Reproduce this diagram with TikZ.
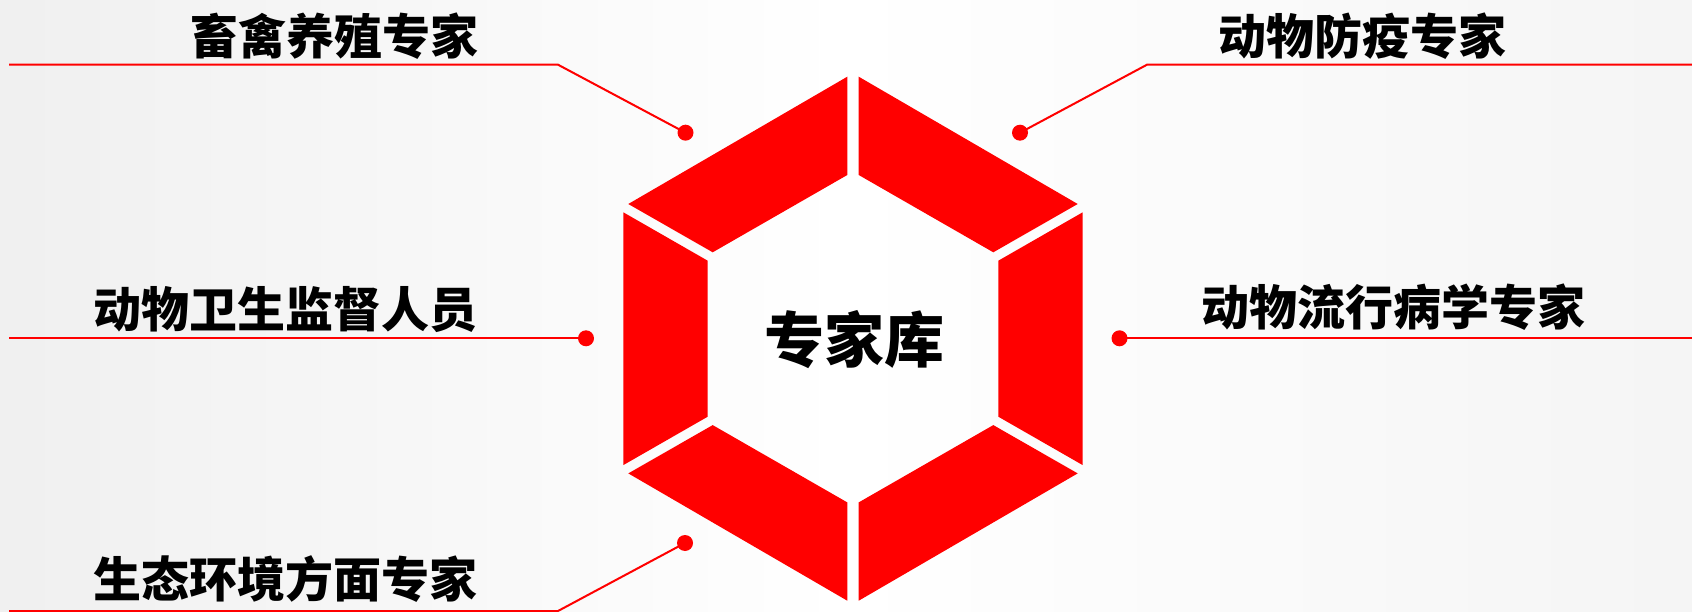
\documentclass[tikz,border=0pt]{standalone}
\usepackage{fontspec}
\newfontfamily\cjk{Noto Sans CJK SC}
\definecolor{hexred}{RGB}{255,0,0}
\begin{document}
\begin{tikzpicture}[x=1pt,y=-1pt,
  seg/.style={fill=hexred,draw=none},
  conn/.style={draw=hexred,line width=2pt},
  dot/.style={circle,fill=hexred,inner sep=0pt,minimum size=16pt},
  lbl/.style={font=\cjk\bfseries\fontsize{48}{48}\selectfont,text=black,inner sep=0pt},
  ctr/.style={font=\cjk\bfseries\fontsize{60}{60}\selectfont,text=black,inner sep=0pt}]
\useasboundingbox (0,0) rectangle (1692,612);
\shade[left color=black!6,right color=black!4,middle color=white] (0,0) rectangle (1692,612);
% hexagon segments
\begin{scope}[shift={(853,338.7)}]
  \foreach \sx/\sy in {1/1,-1/1,1/-1,-1/-1}{
    \begin{scope}[xscale=\sx,yscale=\sy]
      \fill[seg] (-224.7,-134.7) -- (-5.7,-262) -- (-5.7,-163.7) -- (-140.3,-86.4) -- cycle;
    \end{scope}
  }
  \foreach \sx in {1,-1}{
    \begin{scope}[xscale=\sx]
      \fill[seg] (-229.7,-126.4) -- (-145.3,-78) -- (-145.3,78) -- (-229.7,126.4) -- cycle;
    \end{scope}
  }
\end{scope}
\node[ctr] (center) at (854.5,340) {专家库};
% dots
\node[dot] (d1) at (685.5,132.7) {};
\node[dot] (d2) at (1020,132.7) {};
\node[dot] (d3) at (586,338.3) {};
\node[dot] (d4) at (1119.5,338.3) {};
\node[dot] (d5) at (685,543) {};
% line coordinates
\coordinate (a1) at (9,64.7);   \coordinate (b1) at (558,64.7);
\coordinate (a2) at (1692,64.7); \coordinate (b2) at (1147,64.7);
\coordinate (a3) at (9,338.3);
\coordinate (a4) at (1692,338.3);
\coordinate (a5) at (9,611); \coordinate (b5) at (558,611);
\draw[conn] (a1) -- (b1) -- (d1.center);
\draw[conn] (a2) -- (b2) -- (d2.center);
\draw[conn] (a3) -- (d3.center);
\draw[conn] (a4) -- (d4.center);
\draw[conn] (a5) -- (b5) -- (d5.center);
% labels
\node[lbl] (t1) at (334,36.5) {畜禽养殖专家};
\node[lbl] (t2) at (1362,36) {动物防疫专家};
\node[lbl] (t3) at (285.5,310) {动物卫生监督人员};
\node[lbl] (t4) at (1393.5,307) {动物流行病学专家};
\node[lbl] (t5) at (285.5,579) {生态环境方面专家};
\end{tikzpicture}
\end{document}
